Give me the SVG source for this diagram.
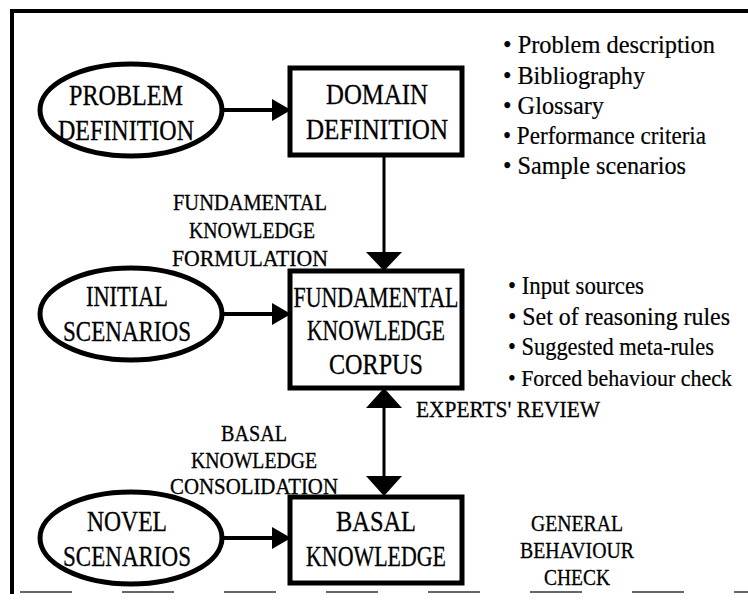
<svg xmlns="http://www.w3.org/2000/svg" width="748" height="608" viewBox="0 0 748 608">
<style>
.frame{fill:none;stroke:#000;stroke-width:4}
.node{fill:#fff;stroke:#000;stroke-width:5}
.oval{fill:#fff;stroke:#000;stroke-width:5}
.line{stroke:#000;fill:none}
.head{fill:#000}
text{font-family:"Liberation Serif","Times New Roman",serif;fill:#000;stroke:#000;stroke-width:0.3}
.big{font-size:29px;text-anchor:middle}
.lab{font-size:23px;text-anchor:middle}
.lab2{font-size:23px}
.bul{font-size:25px;stroke-width:0.2}
</style>
<rect width="748" height="608" fill="#fff"/>
<g id="frame">
<path class="frame" d="M12,594 V11 H748"/>
<line x1="20" y1="592" x2="748" y2="592" stroke="#666" stroke-width="2" stroke-dasharray="52,50"/>
</g>
<g id="connectors">
<line class="line" x1="222" y1="110" x2="274" y2="110" stroke-width="4"/>
<polygon class="head" points="272,99 291,110 272,121"/>
<line class="line" x1="222" y1="314" x2="274" y2="314" stroke-width="4"/>
<polygon class="head" points="272,303 291,314 272,325"/>
<line class="line" x1="222" y1="538" x2="274" y2="538" stroke-width="4"/>
<polygon class="head" points="272,527 291,538 272,549"/>
<line class="line" x1="384" y1="155" x2="384" y2="254" stroke-width="3"/>
<polygon class="head" points="366,252 402,252 384,271"/>
<line class="line" x1="384" y1="406" x2="384" y2="478" stroke-width="3"/>
<polygon class="head" points="384,388 402,408 366,408"/>
<polygon class="head" points="366,476 402,476 384,496"/>
</g>
<g id="problem-definition">
<ellipse class="oval" cx="131" cy="110" rx="91" ry="46"/>
<text class="big" x="126" y="105" textLength="114" lengthAdjust="spacingAndGlyphs">PROBLEM</text>
<text class="big" x="126" y="140" textLength="136" lengthAdjust="spacingAndGlyphs">DEFINITION</text>
</g>
<g id="domain-definition">
<rect class="node" x="290" y="68" width="172" height="87"/>
<text class="big" x="377" y="104" textLength="102" lengthAdjust="spacingAndGlyphs">DOMAIN</text>
<text class="big" x="377" y="139" textLength="142" lengthAdjust="spacingAndGlyphs">DEFINITION</text>
</g>
<g id="domain-items">
<text class="bul" x="503" y="53" textLength="212" lengthAdjust="spacingAndGlyphs">• Problem description</text>
<text class="bul" x="503" y="84" textLength="142" lengthAdjust="spacingAndGlyphs">• Bibliography</text>
<text class="bul" x="503" y="114" textLength="101" lengthAdjust="spacingAndGlyphs">• Glossary</text>
<text class="bul" x="503" y="144" textLength="203" lengthAdjust="spacingAndGlyphs">• Performance criteria</text>
<text class="bul" x="503" y="174" textLength="183" lengthAdjust="spacingAndGlyphs">• Sample scenarios</text>
</g>
<g id="fk-formulation-label">
<text class="lab" x="250" y="210" textLength="154" lengthAdjust="spacingAndGlyphs">FUNDAMENTAL</text>
<text class="lab" x="252" y="238" textLength="126" lengthAdjust="spacingAndGlyphs">KNOWLEDGE</text>
<text class="lab" x="250" y="266" textLength="156" lengthAdjust="spacingAndGlyphs">FORMULATION</text>
</g>
<g id="initial-scenarios">
<ellipse class="oval" cx="131" cy="314" rx="91" ry="46"/>
<text class="big" x="127" y="306" textLength="82" lengthAdjust="spacingAndGlyphs">INITIAL</text>
<text class="big" x="127" y="341" textLength="128" lengthAdjust="spacingAndGlyphs">SCENARIOS</text>
</g>
<g id="fundamental-knowledge-corpus">
<rect class="node" x="290" y="271" width="172" height="117"/>
<text class="big" x="376" y="307" textLength="165" lengthAdjust="spacingAndGlyphs">FUNDAMENTAL</text>
<text class="big" x="376" y="340" textLength="138" lengthAdjust="spacingAndGlyphs">KNOWLEDGE</text>
<text class="big" x="376" y="374" textLength="94" lengthAdjust="spacingAndGlyphs">CORPUS</text>
</g>
<g id="corpus-items">
<text class="bul" x="508" y="294" textLength="136" lengthAdjust="spacingAndGlyphs">• Input sources</text>
<text class="bul" x="508" y="325" textLength="222" lengthAdjust="spacingAndGlyphs">• Set of reasoning rules</text>
<text class="bul" x="508" y="355" textLength="206" lengthAdjust="spacingAndGlyphs">• Suggested meta-rules</text>
<text class="bul" x="508" y="386" style="font-size:23px" textLength="224" lengthAdjust="spacingAndGlyphs">• Forced behaviour check</text>
</g>
<g id="experts-review-label">
<text class="lab2" x="416" y="417" textLength="184" lengthAdjust="spacingAndGlyphs">EXPERTS' REVIEW</text>
</g>
<g id="bk-consolidation-label">
<text class="lab" x="254" y="441" textLength="66" lengthAdjust="spacingAndGlyphs">BASAL</text>
<text class="lab" x="254" y="468" textLength="126" lengthAdjust="spacingAndGlyphs">KNOWLEDGE</text>
<text class="lab" x="254" y="494" textLength="168" lengthAdjust="spacingAndGlyphs">CONSOLIDATION</text>
</g>
<g id="novel-scenarios">
<ellipse class="oval" cx="131" cy="538" rx="91" ry="46"/>
<text class="big" x="127" y="531" textLength="80" lengthAdjust="spacingAndGlyphs">NOVEL</text>
<text class="big" x="127" y="566" textLength="128" lengthAdjust="spacingAndGlyphs">SCENARIOS</text>
</g>
<g id="basal-knowledge">
<rect class="node" x="290" y="497" width="172" height="86"/>
<text class="big" x="376" y="531" textLength="80" lengthAdjust="spacingAndGlyphs">BASAL</text>
<text class="big" x="376" y="566" textLength="140" lengthAdjust="spacingAndGlyphs">KNOWLEDGE</text>
</g>
<g id="general-behaviour-check-label">
<text class="lab" x="577" y="531" textLength="92" lengthAdjust="spacingAndGlyphs">GENERAL</text>
<text class="lab" x="577" y="558" textLength="114" lengthAdjust="spacingAndGlyphs">BEHAVIOUR</text>
<text class="lab" x="577" y="585" textLength="66" lengthAdjust="spacingAndGlyphs">CHECK</text>
</g>
</svg>
